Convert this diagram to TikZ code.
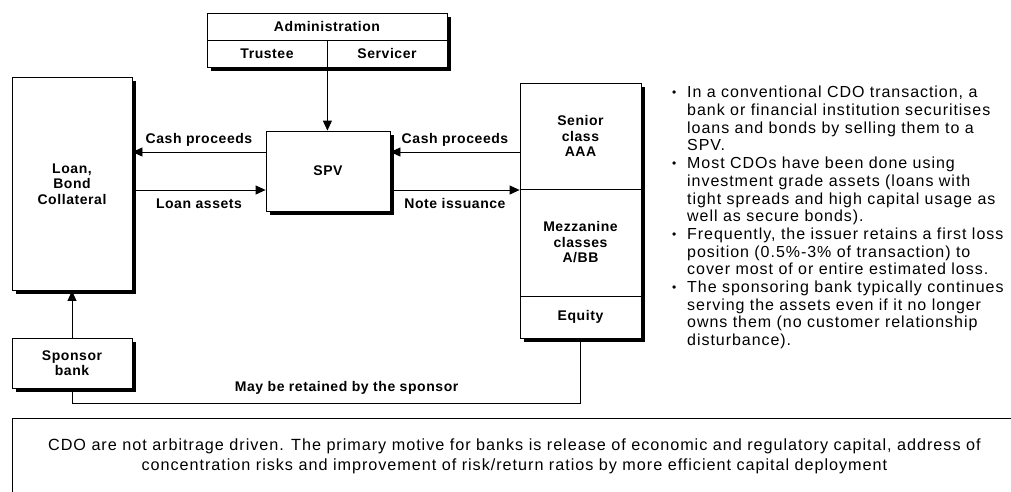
\documentclass[tikz,border=0pt]{standalone}
\usepackage{fontspec}
\setmainfont{Liberation Sans}
\newfontfamily\labelfont[LetterSpace=4]{Liberation Sans}
\newfontfamily\notefont[LetterSpace=6]{Liberation Sans}
\usetikzlibrary{arrows.meta}
\providecommand{\notebullet}{\makebox[0pt][r]{\raisebox{1pt}{\fontsize{12pt}{12pt}\selectfont\textbullet}\hspace{11pt}}}

\begin{document}
\begin{tikzpicture}[x=1pt,y=-1pt,
    box/.style={draw,line width=0.8pt,fill=white,inner sep=2pt,align=center,font=\labelfontsize,
      preaction={fill=black,transform canvas={xshift=3.5pt,yshift=-3.5pt}}},
    flow/.style={draw,line width=0.8pt,-{Triangle[length=10pt,width=9pt]}},
    flowlabel/.style={font=\labelfontsize,inner sep=0pt}]
    \providecommand{\labelfontsize}{\labelfont\bfseries\fontsize{14pt}{15.5pt}\selectfont}
    \providecommand{\notefontsize}{\notefont\fontsize{16pt}{17.7pt}\selectfont}
    \pgfmathsetmacro{\flowgap}{19} % flows above and below the middle of SPV
    \useasboundingbox (0,0) rectangle (1011,491);
    % administration
    \node[box,minimum width=240pt,minimum height=27pt] (admin) at (327,26.5) {Administration};
    \node[box,minimum width=120pt,minimum height=27pt] (trustee) at (267,53.5) {Trustee};
    \node[box,minimum width=120pt,minimum height=27pt] (servicer) at (387,53.5) {Servicer};
    % main boxes
    \node[box,minimum width=124pt,minimum height=80pt] (spv) at (328,171) {SPV};
    \node[box,minimum width=120pt,minimum height=213pt] (loan) at (72,184) {Loan,\\Bond\\Collateral};
    \node[box,minimum width=120pt,minimum height=50pt] (sponsor) at (72,363) {Sponsor\\bank};
    % tranches
    \node[box,minimum width=121pt,minimum height=106pt] (senior) at (580.5,136) {Senior\\class\\AAA};
    \node[box,minimum width=121pt,minimum height=107pt] (mezz) at (580.5,242.5) {Mezzanine\\classes\\A/BB};
    \node[box,minimum width=121pt,minimum height=42pt] (equity) at (580.5,317) {Equity};
    % flows
    \draw[flow] (trustee.south east) -- (trustee.south east |- spv.north);
    \draw[flow] ([yshift=\flowgap pt]spv.west) -- ([yshift=\flowgap pt]spv.west -| loan.east)
        node[flowlabel,midway,above=5pt] {Cash proceeds};
    \draw[flow] ([yshift=-\flowgap pt]spv.west -| loan.east) -- ([yshift=-\flowgap pt]spv.west)
        node[flowlabel,midway,below=8pt] {Loan assets};
    \draw[flow] ([yshift=\flowgap pt]spv.east -| senior.west) -- ([yshift=\flowgap pt]spv.east)
        node[flowlabel,midway,above=5pt] {Cash proceeds};
    \draw[flow] ([yshift=-\flowgap pt]spv.east) -- ([yshift=-\flowgap pt]spv.east -| senior.west)
        node[flowlabel,midway,below=8pt] {Note issuance};
    \draw[flow] (sponsor.north) -- (loan.south);
    \draw[line width=0.8pt] (sponsor.south) -- ++(0,15) -| (equity.south)
        node[flowlabel,pos=0.27,above=9pt] {May be retained by the sponsor};
    % notes
    \node[anchor=north west,inner sep=0pt,align=left,font=\notefontsize] (notes) at (687,86) {%
        \notebullet In a conventional CDO transaction, a\\
        bank or financial institution securitises\\
        loans and bonds by selling them to a\\
        SPV.\\
        \notebullet Most CDOs have been done using\\
        investment grade assets (loans with\\
        tight spreads and high capital usage as\\
        well as secure bonds).\\
        \notebullet Frequently, the issuer retains a first loss\\
        position (0.5\%-3\% of transaction) to\\
        cover most of or entire estimated loss.\\
        \notebullet The sponsoring bank typically continues\\
        serving the assets even if it no longer\\
        owns them (no customer relationship\\
        disturbance).};
    \node[draw,line width=0.8pt,anchor=north west,minimum width=1004pt,minimum height=76pt,align=center,
        font=\notefont\fontsize{16.2pt}{20pt}\selectfont] (motive) at (12,418)
        {CDO are not arbitrage driven. The primary motive for banks is release of economic and regulatory capital, address of\\
        concentration risks and improvement of risk/return ratios by more efficient capital deployment};
\end{tikzpicture}
\end{document}
